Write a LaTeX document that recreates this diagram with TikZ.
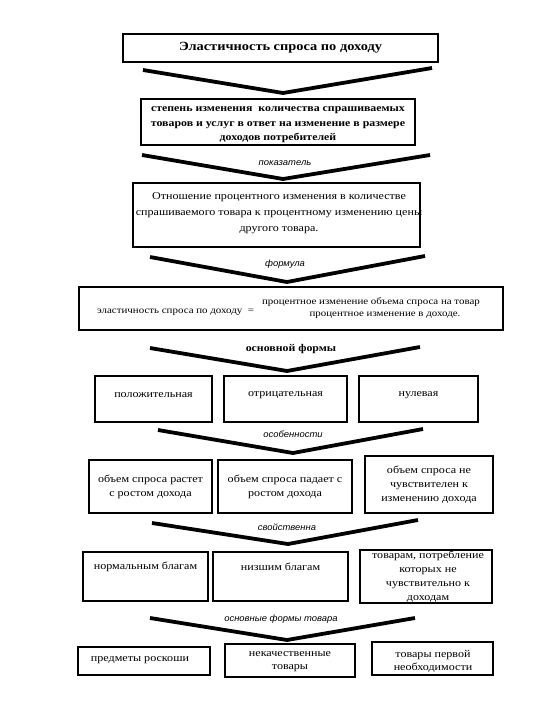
\documentclass[tikz,border=0pt]{standalone}
\usepackage{fontspec}
\setmainfont[FakeStretch=1.15]{Liberation Serif}
\newfontfamily\labfont[FakeStretch=1.05]{Liberation Sans}
\begin{document}
\begin{tikzpicture}[x=1pt,y=-1pt,
  bxthick/.style={draw, line width=2pt, inner sep=0pt, outer sep=0pt, align=center},
  bxthin/.style={draw, line width=1.5pt, inner sep=0pt, outer sep=0pt, align=center},
  chev/.style={line width=3.8pt, line join=miter},
  lbl/.style={font=\labfont\itshape\fontsize{9}{10}\selectfont, inner sep=1pt},
  txt/.style={font=\fontsize{10.5}{14}\selectfont, align=center, inner sep=0pt},
]
\useasboundingbox (0,0) rectangle (540,720);
\newcommand{\bx}[7]{\node[#6, minimum width={#4-#2}, minimum height={#5-#3}] (#1) at ({(#2+#4)/2},{(#3+#5)/2}) {#7};}

% title
\bx{title}{123}{34}{438}{62}{bxthick,font=\bfseries\fontsize{12.5}{14}\selectfont}{Эластичность спроса по доходу}
\draw[chev] (143,70) -- (283,93) -- (432,68);

% box 2
\bx{def}{141}{99}{415}{145}{bxthick}{}
\node[txt, font=\bfseries\fontsize{10.3}{14.5}\selectfont] (deft) at (278,125) {степень изменения \ количества спрашиваемых\\товаров и услуг в ответ на изменение в размере\\доходов потребителей};
\draw[chev] (142,155) -- (283,179) -- (430,155);
\node[lbl] (l1) at (285,163) {показатель};

% box 3
\bx{ind}{133}{183}{420}{247}{bxthick}{}
\node[txt, font=\fontsize{10.5}{16}\selectfont] (indt) at (279,213) {Отношение процентного изменения в количестве\\спрашиваемого товара к процентному изменению цены\\другого товара.};
\draw[chev] (150,257) -- (287,282) -- (425,256);
\node[lbl] (l2) at (285,264) {формула};

% formula
\bx{form}{79}{287}{503}{330}{bxthick}{}
\node[txt, font=\fontsize{9.5}{12}\selectfont, anchor=west] (fl) at (97,312) {эластичность спроса по доходу \ =};
\node[txt, font=\fontsize{9.5}{12}\selectfont] (fn) at (371,302) {процентное изменение объема спроса на товар};
\node[txt, font=\fontsize{9.5}{12}\selectfont] (fd) at (385,315) {процентное изменение в доходе.};
\draw[chev] (150,348) -- (287,371) -- (420,347);
\node[font=\bfseries\fontsize{10.3}{11}\selectfont, inner sep=1pt] (l3) at (291,349) {основной формы};

% row 1
\bx{a1}{95}{376}{212}{422}{bxthin}{}
\bx{b1}{224}{376}{347}{422}{bxthin}{}
\bx{c1}{359}{376}{478}{422}{bxthin}{}
\node[txt] (a1t) at (153.5,395) {положительная};
\node[txt] (b1t) at (285.5,395) {отрицательная};
\node[txt] (c1t) at (418.5,395) {нулевая};
\draw[chev] (158,430) -- (293,453) -- (423,429);
\node[lbl] (l4) at (293,434) {особенности};

% row 2
\bx{a2}{89}{460}{212}{513}{bxthick,txt}{объем спроса растет\\с ростом дохода}
\bx{b2}{218}{460}{352}{513}{bxthick,txt}{объем спроса падает с\\ростом дохода}
\bx{c2}{365}{456}{493}{513}{bxthick,txt}{объем спроса не\\чувствителен к\\изменению дохода}
\draw[chev] (152,523) -- (288,544) -- (418,520);
\node[lbl] (l5) at (287,527) {свойственна};

% row 3
\bx{a3}{83}{552}{208}{601}{bxthick}{}
\bx{b3}{213}{552}{348}{601}{bxthick}{}
\bx{c3}{360}{550}{492}{603}{bxthick}{}
\node[txt] (a3t) at (145.5,567) {нормальным благам};
\node[txt] (b3t) at (280.5,567) {низшим благам};
\node[txt] (c3t) at (428,576.5) {товарам, потребление\\которых не\\чувствительно к\\доходам};
\draw[chev] (150,618) -- (287,640) -- (415,618);
\node[lbl] (l6) at (281,619) {основные формы товара};

% row 4
\bx{a4}{78}{647}{210}{675}{bxthick}{}
\bx{b4}{225}{644}{355}{677}{bxthick}{}
\bx{c4}{372}{642}{493}{675}{bxthick}{}
\node[txt] (a4t) at (140,660) {предметы роскоши};
\node[txt, font=\fontsize{10.5}{13}\selectfont] (b4t) at (290,661.5) {некачественные\\товары};
\node[txt, font=\fontsize{10.5}{13}\selectfont] (c4t) at (433,661.5) {товары первой\\необходимости};
\end{tikzpicture}
\end{document}
